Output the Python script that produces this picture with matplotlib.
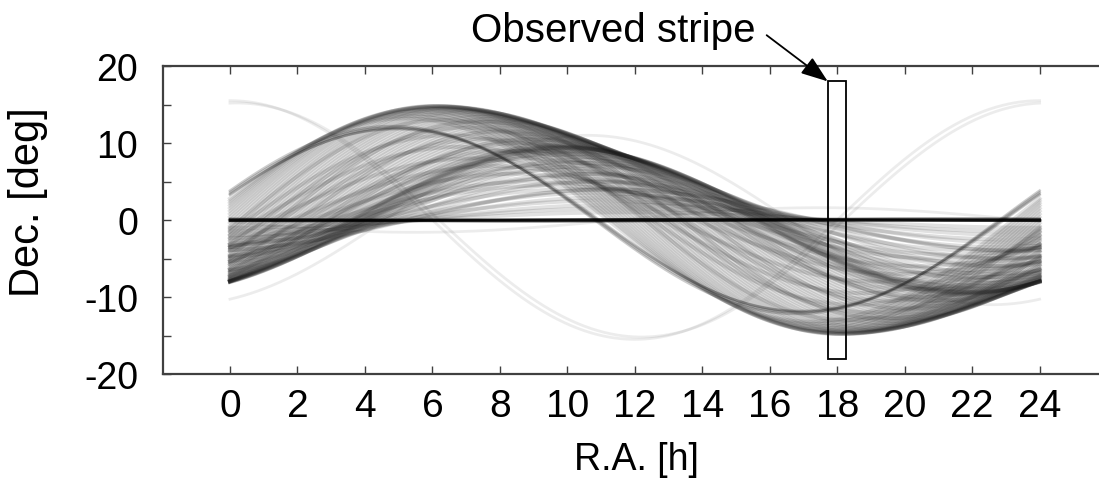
import matplotlib
matplotlib.use("Agg")
import matplotlib.pyplot as plt
from matplotlib.patches import Rectangle
import numpy as np

plt.rcParams["font.family"] = ["Liberation Sans", "DejaVu Sans"]

# --- Bahnparameter (Inklination [deg], Knoten-RA [h]) ---
# driftende GEO-Objekte (äußere Hülle)
drift_node_h = [-0.8, -0.7, -0.6, -0.5, -0.4, -0.3, -0.2, -0.1, 0.0, 0.1,
                0.2, 0.3, 0.4, 0.5, 0.6, 0.7, 0.8, 0.9, 1.0, 1.1,
                1.2, 1.3, 1.4, 1.5, 1.6, 1.7, 1.8, 1.9, 2.0, 2.1,
                2.2, 2.3, 2.4, 2.5, 2.6, 2.7, 2.8, 2.9, 3.0, 3.1,
                3.2, 3.3, 3.4, 3.5, 3.6, 3.65, 3.7, 3.75, 3.8, 3.85,
                3.9, 3.95, 4.0, 4.05, 4.1, 4.15, 4.2, 4.3, 4.4, 4.5,
                4.6, 4.8, 5.0, 5.2, 5.4, 5.6, 5.8]
drift_incl_deg = [13.2, 13.5, 13.8, 14.1, 14.3, 14.5, 14.6, 14.7, 14.8, 14.8,
                  14.8, 14.8, 14.7, 14.7, 14.6, 14.6, 14.5, 14.4, 14.3, 14.2,
                  14.1, 14.0, 13.8, 13.7, 13.5, 13.4, 13.2, 13.1, 12.9, 12.8,
                  12.6, 12.4, 12.2, 12.0, 11.8, 11.6, 11.4, 11.2, 11.0, 10.8,
                  10.6, 10.4, 10.2, 10.0, 9.8, 9.7, 9.6, 9.55, 9.5, 9.45,
                  9.4, 9.35, 9.3, 9.15, 9.0, 8.8, 8.6, 8.2, 7.8, 7.4,
                  7.0, 6.0, 5.0, 4.0, 3.0, 2.0, 1.0]
# driftende Objekte im Inneren des Bandes
inner_node_h = [0.3, 0.5, 0.8, 1.0, 1.2, 1.4, 1.5, 1.8, 2.0, 2.2,
                2.4, 2.6, 2.8, 2.9, 3.0, 3.0, 3.2, 3.4, 3.5, 3.6,
                3.7, 3.9, 4.0, 4.2, 4.3, 4.6, 4.8, 5.0, 5.3, 5.5]
inner_incl_deg = [13.0, 11.0, 9.5, 12.0, 8.0, 12.8, 10.5, 7.0, 11.5, 9.0,
                  6.0, 10.0, 8.0, 10.5, 5.0, 9.0, 7.0, 4.5, 8.5, 9.0,
                  6.5, 5.5, 7.5, 4.0, 6.0, 5.0, 3.5, 2.5, 4.0, 1.5]
# dunklere Gruppe (Max ~12 deg bei RA ~5 h)
cluster_node_h = [-1.2, -1.15, -1.1, -1.05]
cluster_incl_deg = [12.2, 12.0, 11.8, 11.9]
# geregelte Satelliten (i ~ 0)
ctrl_node_h = [0.0, 3.0, 6.0, 9.0, 12.0, 15.0, 18.0]
ctrl_incl_deg = [0.0, 0.05, 0.1, 0.15, 0.08, 0.2, 0.12]
# einzelne, schwache Bahnen
faint_node_h = [18.0, 18.2, 4.6, 11.5]
faint_incl_deg = [15.5, 15.2, 11.0, 1.6]

# beobachteter Streifen
stripe_ra = (17.72, 18.25)
stripe_dec = (-18.1, 18.0)

ra = np.linspace(0, 24, 481)


def trace(incl, node):
    # Großkreis in (RA, Dec)
    return np.degrees(np.arctan(np.tan(np.radians(incl)) *
                                np.sin(np.radians(15.0 * (ra - node)))))


fig = plt.figure(figsize=(10.99, 4.85), dpi=100)
ax = fig.add_axes([163 / 1099, 1 - 375 / 485, 936 / 1099, 308 / 485])

for i, n in zip(faint_incl_deg, faint_node_h):
    ax.plot(ra, trace(i, n), color="0.3", alpha=0.10, lw=2.0)
for i, n in zip(drift_incl_deg, drift_node_h):
    ax.plot(ra, trace(i, n), color="0.1", alpha=0.13, lw=2.8)
for i, n in zip(inner_incl_deg, inner_node_h):
    ax.plot(ra, trace(i, n), color="0.1", alpha=0.14, lw=2.8)
for i, n in zip(cluster_incl_deg, cluster_node_h):
    ax.plot(ra, trace(i, n), color="0.1", alpha=0.22, lw=1.8)
for i, n in zip(ctrl_incl_deg, ctrl_node_h):
    ax.plot(ra, trace(i, n), color="k", alpha=0.42, lw=1.8)

ax.add_patch(Rectangle((stripe_ra[0], stripe_dec[0]),
                       stripe_ra[1] - stripe_ra[0], stripe_dec[1] - stripe_dec[0],
                       fill=False, ec="k", lw=1.3, zorder=5))

ax.annotate("Observed stripe", xy=(stripe_ra[0], stripe_dec[1]), xycoords="data",
            xytext=(0.687, 0.913), textcoords="figure fraction",
            ha="right", va="baseline", fontsize=29, annotation_clip=False,
            arrowprops=dict(arrowstyle="-|>,head_length=1.1,head_width=0.4",
                            mutation_scale=15, color="k", lw=1.3,
                            relpos=(1.0, 0.6), shrinkA=8, shrinkB=0))

ax.set_xlim(-1.985, 25.76)
ax.set_ylim(-20, 20)
ax.set_xticks(range(0, 25, 2))
ax.set_yticks(range(-20, 21, 5))
ax.set_yticklabels(["-20", "", "-10", "", "0", "", "10", "", "20"])
ax.tick_params(axis="x", direction="in", top=True, length=6, width=1.0,
               labelsize=28, pad=10, color="0.25")
ax.tick_params(axis="y", direction="in", right=False, length=6, width=1.0,
               labelsize=27, pad=18, color="0.25")
ax.spines["right"].set_visible(False)
for s in ("top", "bottom", "left"):
    ax.spines[s].set_linewidth(1.6)
    ax.spines[s].set_color("0.25")

ax.set_xlabel("R.A. [h]", fontsize=27, va="center")
ax.xaxis.set_label_coords(0.506, -0.276)
ax.set_ylabel("Dec. [deg]", fontsize=30, va="center")
ax.yaxis.set_label_coords(-0.144, 0.56)

fig.savefig("out.png", dpi=100)
